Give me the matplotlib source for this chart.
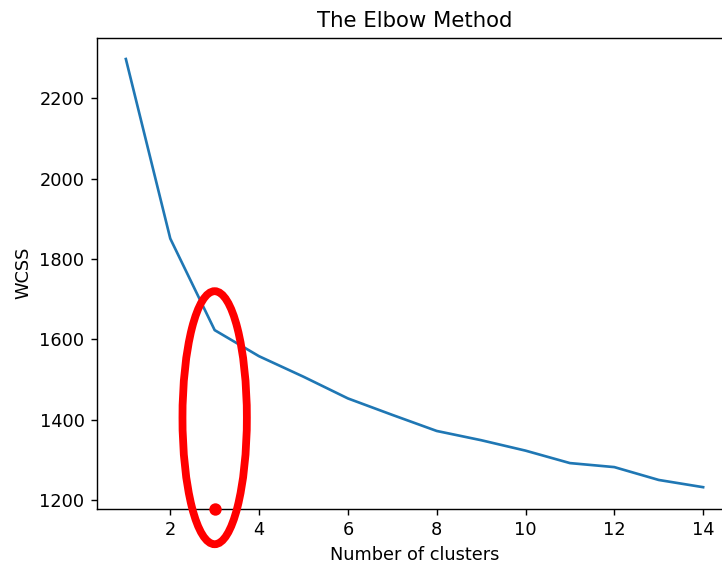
import matplotlib
matplotlib.use("Agg")
import matplotlib.pyplot as plt
from matplotlib.patches import Ellipse

clusters = list(range(1, 15))
wcss = [2298, 1851, 1623, 1558, 1507, 1453, 1412, 1372, 1349, 1323, 1292, 1282, 1250, 1232]

elbow_x = 3
elbow_y = 1178
ellipse_center_y = 1405
ellipse_width = 1.45
ellipse_height = 630

dpi = 127.5
fig = plt.figure(figsize=(722 / dpi, 567 / dpi), dpi=dpi)
ax = fig.add_axes([97 / 722, 1 - 508.6 / 567, 635 / 722, 471 / 567])

ax.plot(clusters, wcss)
ax.set_title("The Elbow Method")
ax.set_xlabel("Number of clusters")
ax.set_ylabel("WCSS")

ell = Ellipse((elbow_x, ellipse_center_y), ellipse_width, ellipse_height,
              fill=False, edgecolor="red", linewidth=4.4, clip_on=False, zorder=5)
ax.add_patch(ell)
ax.plot([elbow_x], [elbow_y], "o", color="red", markersize=6, clip_on=False, zorder=6)

ax.set_xlim(0.35, 14.65)
ax.set_ylim(1178.7, 2351.3)

fig.savefig("out.png", dpi=dpi)
